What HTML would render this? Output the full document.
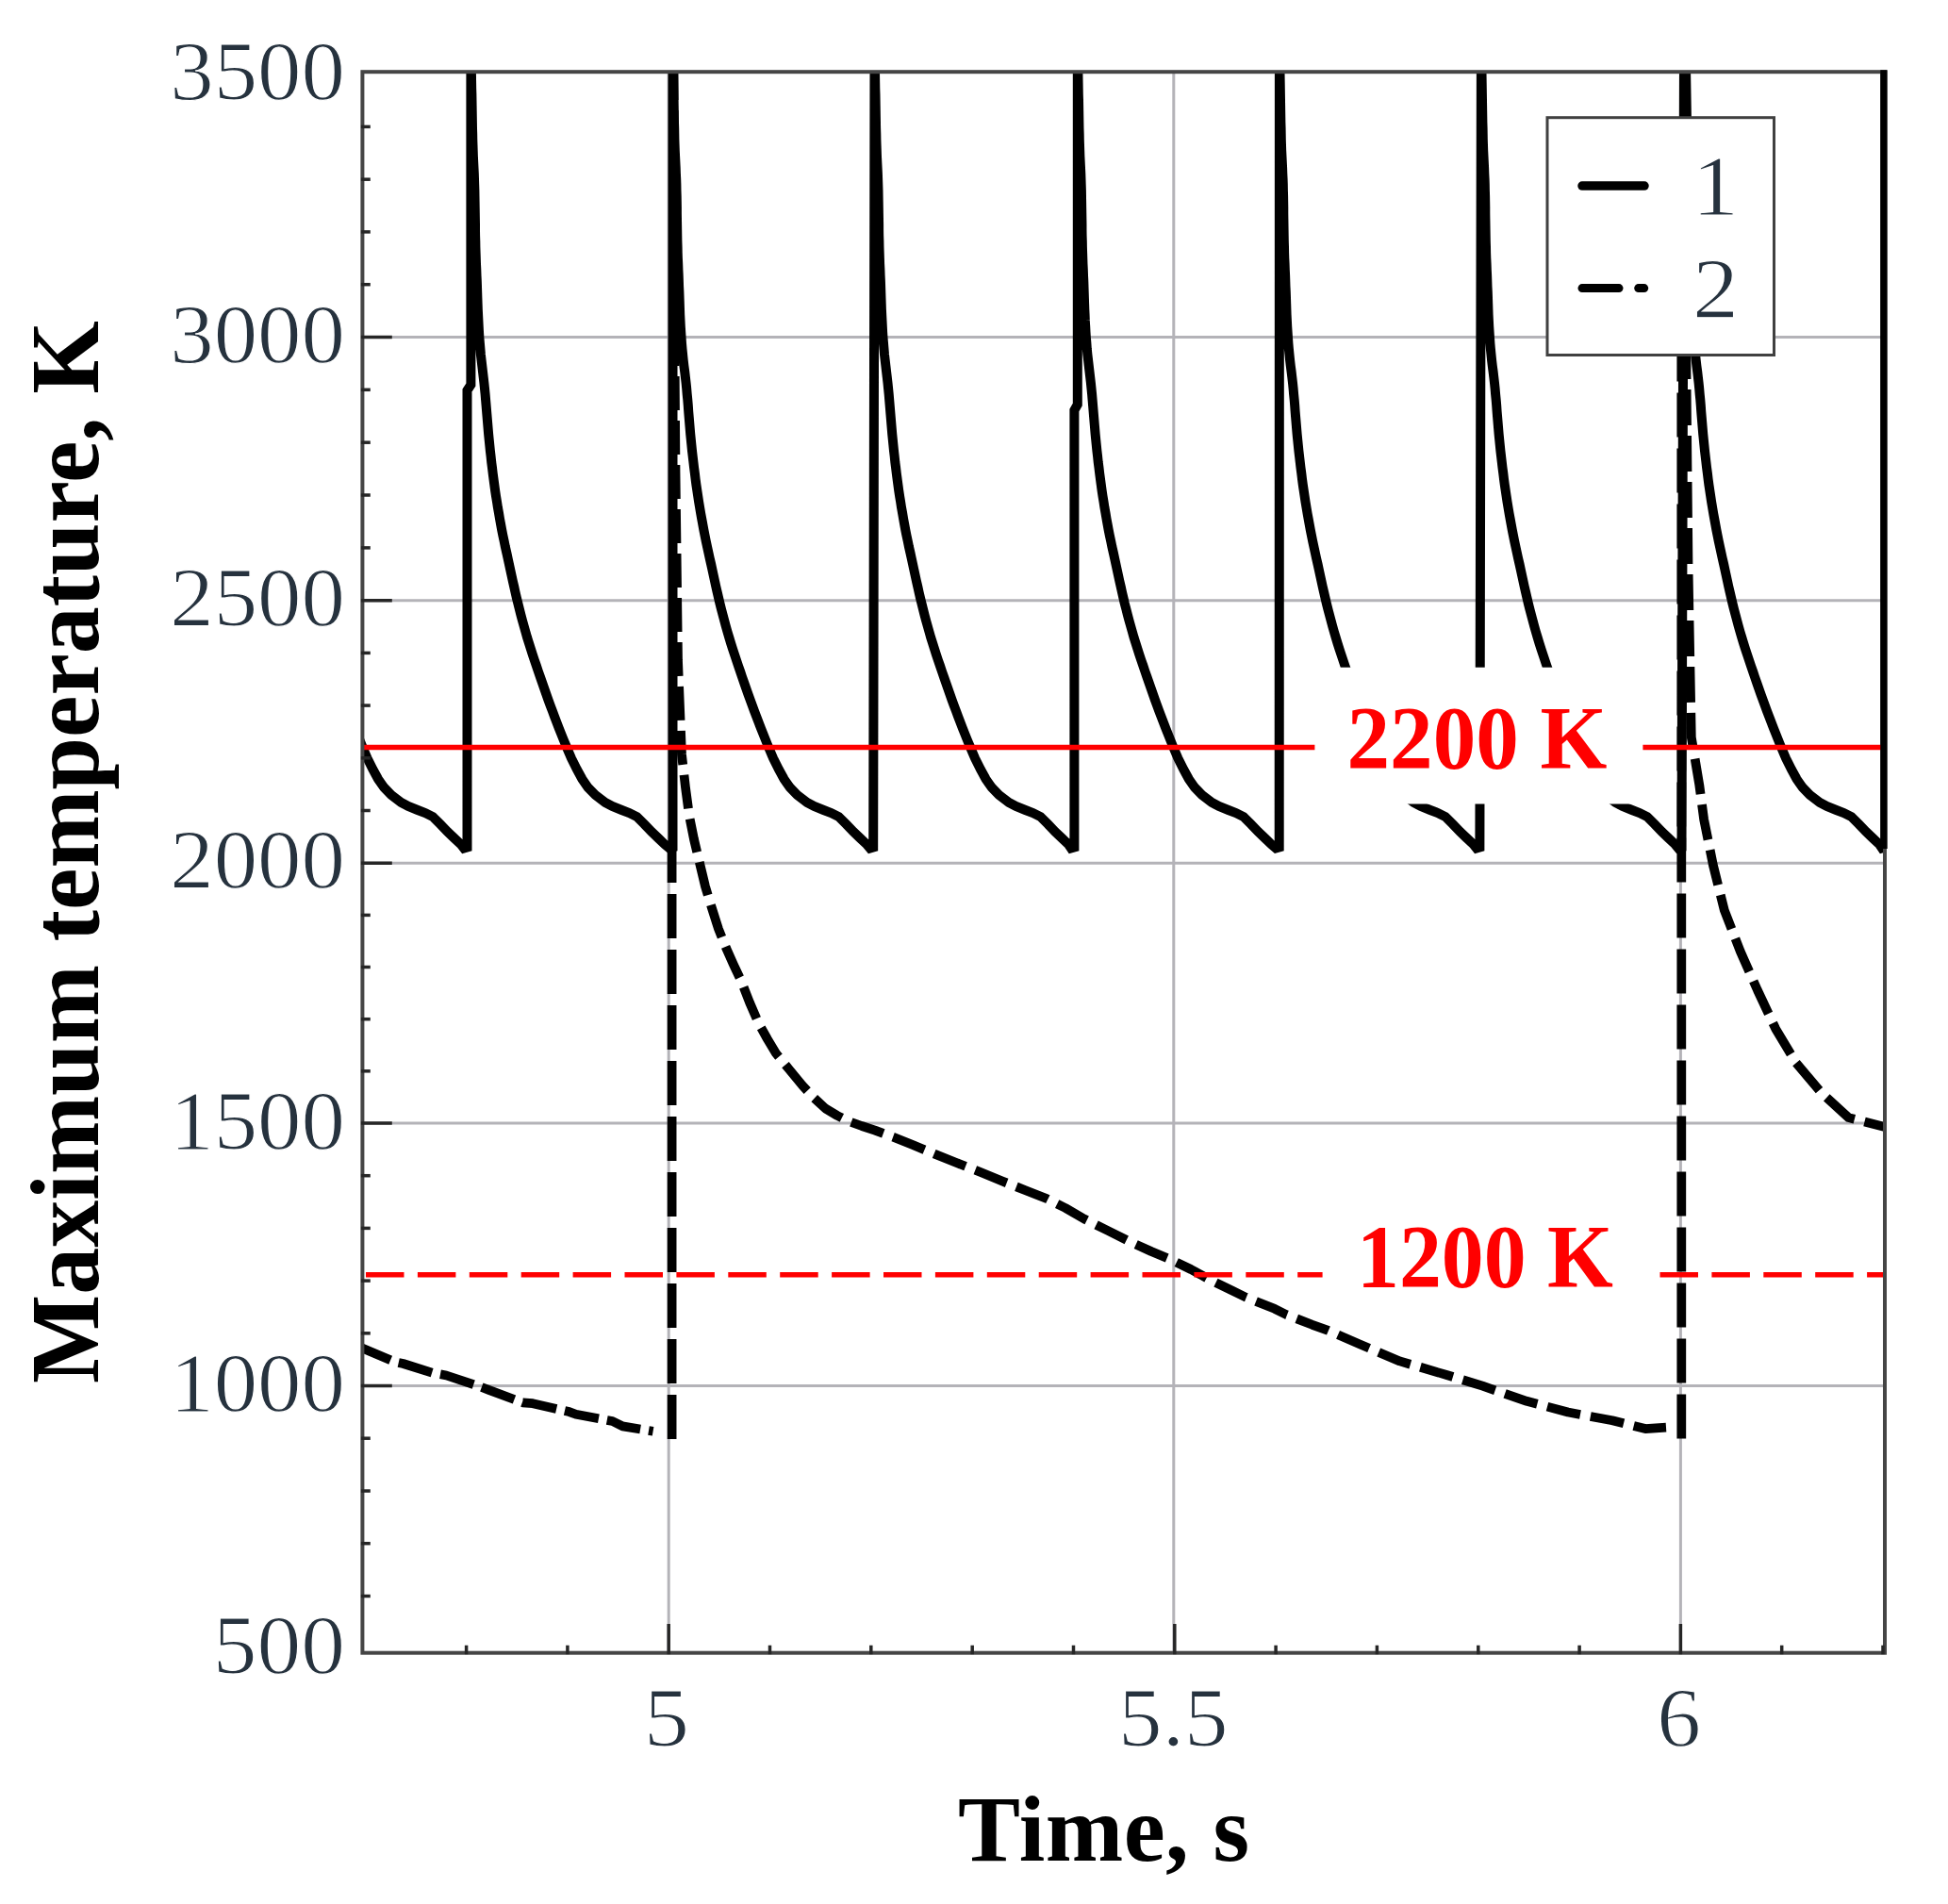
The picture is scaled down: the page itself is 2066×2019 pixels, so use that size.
<!DOCTYPE html>
<html><head><meta charset="utf-8"><title>Maximum temperature vs time</title>
<style>
html,body{margin:0;padding:0;background:#fff;}
body{width:2066px;height:2019px;overflow:hidden;}
svg{display:block;}
</style></head>
<body>
<svg width="2066" height="2019" viewBox="0 0 2066 2019">
<defs><clipPath id="pa"><rect x="384.4" y="76.2" width="1614.6" height="1676.5"/></clipPath></defs>
<rect width="2066" height="2019" fill="#fff"/>
<g stroke="#b4b3b8" stroke-width="3" fill="none">
<line x1="384.4" y1="1469.5" x2="1999.0" y2="1469.5"/>
<line x1="384.4" y1="1191.0" x2="1999.0" y2="1191.0"/>
<line x1="384.4" y1="915.2" x2="1999.0" y2="915.2"/>
<line x1="384.4" y1="636.7" x2="1999.0" y2="636.7"/>
<line x1="384.4" y1="357.5" x2="1999.0" y2="357.5"/>
<line x1="709.2" y1="76.2" x2="709.2" y2="1752.7"/>
<line x1="1244.8" y1="76.2" x2="1244.8" y2="1752.7"/>
<line x1="1782.4" y1="76.2" x2="1782.4" y2="1752.7"/>
</g>
<g clip-path="url(#pa)" fill="none" stroke="#000" stroke-width="9.75" stroke-linejoin="round">
<polyline points="380.0,1428.0 384.0,1429.5 418.6,1444.0 427.6,1446.0 459.0,1455.8 473.4,1458.5 508.5,1470.2 518.3,1473.8 554.3,1487.3 565.0,1488.2 603.7,1497.1 610.9,1499.8 649.5,1507.0 660.3,1512.4 692.6,1517.8" stroke-dasharray="37 9"/>
<polyline points="714.5,70.0 715.0,300.0 716.5,500.0 719.0,700.0 723.0,800.0 727.0,835.0 731.0,865.0 736.0,890.0 742.0,915.0 748.0,940.0 755.0,963.0 762.0,985.0 770.0,1005.0 778.0,1023.0 786.0,1040.0 795.0,1063.0 805.0,1086.0 814.0,1102.0 823.0,1117.0 837.0,1134.0 851.0,1151.0 863.0,1164.0 875.5,1175.5 888.0,1183.0 900.0,1189.0 914.0,1194.0 928.0,1198.6 948.0,1206.0 968.0,1214.0 992.0,1224.0 1017.0,1234.0 1040.0,1243.0 1063.0,1252.5 1087.0,1262.0 1110.0,1271.0 1130.0,1281.0 1150.0,1292.6 1175.0,1305.0 1199.0,1317.0 1221.0,1327.0 1242.0,1335.7 1263.0,1346.0 1285.0,1358.0 1307.0,1368.6 1321.0,1375.5 1351.8,1387.8 1364.1,1394.0 1391.8,1404.8 1408.7,1410.9 1442.6,1425.6 1484.6,1443.4 1534.3,1458.0 1572.4,1469.7 1619.2,1485.8 1663.0,1497.5 1709.9,1506.3 1745.0,1515.1 1767.0,1513.6" stroke-dasharray="36 11"/>
<polyline points="1787.0,70.0 1788.5,400.0 1790.5,600.0 1793.8,781.7 1802.3,832.5 1807.1,868.7 1816.8,917.0 1828.8,965.3 1845.7,1008.8 1863.9,1049.9 1883.2,1090.9 1904.9,1127.1 1931.5,1158.6 1960.5,1185.1 1999.0,1195.0 2010.0,1196.0" stroke-dasharray="38 11"/>
<polyline points="712.6,1526.0 712.6,900.0" stroke-dasharray="47 12" stroke-linecap="butt"/>
<polyline points="1783.3,1525.5 1783.3,130.0" stroke-dasharray="47 12" stroke-linecap="butt"/>
<polyline points="283.5,70.0 283.6,76.0 283.7,82.0 283.8,88.0 283.9,94.0 284.0,100.0 284.1,106.0 284.2,112.0 284.3,118.0 284.4,124.0 284.5,130.0 284.7,136.0 284.8,142.0 284.9,148.0 285.1,154.0 285.3,160.0 285.6,166.0 285.9,172.0 286.2,178.0 286.4,184.0 286.7,190.0 286.9,196.0 287.0,202.0 287.2,208.0 287.3,214.0 287.4,220.0 287.4,226.0 287.5,232.0 287.6,238.0 287.7,244.0 287.8,250.0 287.9,256.0 288.1,262.0 288.2,268.0 288.4,274.0 288.7,280.0 288.9,286.0 289.2,292.0 289.4,298.0 289.6,304.0 289.9,310.0 290.1,316.0 290.3,322.0 290.5,328.0 290.7,334.0 291.0,340.0 291.3,346.0 291.7,352.0 292.1,358.0 292.5,364.0 293.0,370.0 293.6,376.0 294.2,382.0 294.9,388.0 295.7,394.0 296.4,400.0 297.1,406.0 297.7,412.0 298.2,418.0 298.8,424.0 299.3,430.0 299.7,436.0 300.2,442.0 300.7,448.0 301.2,454.0 301.7,460.0 302.3,466.0 302.9,472.0 303.5,478.0 304.2,484.0 304.9,490.0 305.6,496.0 306.4,502.0 307.1,508.0 307.9,514.0 308.8,520.0 309.7,526.0 310.6,532.0 311.6,538.0 312.6,544.0 313.7,550.0 314.8,556.0 315.9,562.0 317.1,568.0 318.3,574.0 319.6,580.0 320.9,586.0 322.2,592.0 323.6,598.0 324.9,604.0 326.2,610.0 327.5,616.0 328.8,622.0 330.2,628.0 331.6,634.0 333.0,640.0 334.5,646.0 336.1,652.0 337.7,658.0 339.3,664.0 341.0,670.0 342.8,676.0 344.6,682.0 346.5,688.0 348.5,694.0 350.5,700.0 352.5,706.0 354.6,712.0 356.6,718.0 358.7,724.0 360.8,730.0 362.9,736.0 365.1,742.0 367.3,748.0 369.5,754.0 371.8,760.0 374.1,766.0 376.4,772.0 378.8,778.0 381.2,784.0 384.0,791.0 389.5,804.0 395.5,816.0 401.0,826.0 407.3,835.0 415.0,843.0 425.5,851.0 433.0,855.0 443.0,859.0 451.0,862.0 459.0,866.0 467.0,874.0 474.6,882.0 482.0,889.0 488.8,895.5 492.0,899.5 495.5,898.5 495.5,414.0 499.4,408.0 499.4,70.0 499.9,70.0 499.9,76.0 500.0,82.0 500.1,88.0 500.2,94.0 500.4,100.0 500.5,106.0 500.6,112.0 500.7,118.0 500.8,124.0 500.9,130.0 501.0,136.0 501.2,142.0 501.3,148.0 501.5,154.0 501.7,160.0 501.9,166.0 502.2,172.0 502.5,178.0 502.8,184.0 503.0,190.0 503.2,196.0 503.4,202.0 503.5,208.0 503.6,214.0 503.7,220.0 503.8,226.0 503.9,232.0 504.0,238.0 504.0,244.0 504.1,250.0 504.3,256.0 504.4,262.0 504.6,268.0 504.8,274.0 505.0,280.0 505.3,286.0 505.5,292.0 505.8,298.0 506.0,304.0 506.2,310.0 506.4,316.0 506.6,322.0 506.8,328.0 507.1,334.0 507.4,340.0 507.7,346.0 508.0,352.0 508.4,358.0 508.9,364.0 509.4,370.0 509.9,376.0 510.6,382.0 511.3,388.0 512.0,394.0 512.7,400.0 513.4,406.0 514.0,412.0 514.6,418.0 515.1,424.0 515.6,430.0 516.1,436.0 516.6,442.0 517.1,448.0 517.6,454.0 518.1,460.0 518.7,466.0 519.3,472.0 519.9,478.0 520.6,484.0 521.2,490.0 522.0,496.0 522.7,502.0 523.5,508.0 524.3,514.0 525.1,520.0 526.0,526.0 527.0,532.0 527.9,538.0 529.0,544.0 530.0,550.0 531.1,556.0 532.2,562.0 533.4,568.0 534.7,574.0 535.9,580.0 537.3,586.0 538.6,592.0 539.9,598.0 541.2,604.0 542.5,610.0 543.8,616.0 545.2,622.0 546.5,628.0 547.9,634.0 549.4,640.0 550.9,646.0 552.4,652.0 554.0,658.0 555.7,664.0 557.4,670.0 559.1,676.0 561.0,682.0 562.9,688.0 564.8,694.0 566.8,700.0 568.9,706.0 570.9,712.0 573.0,718.0 575.1,724.0 577.2,730.0 579.3,736.0 581.4,742.0 583.6,748.0 585.9,754.0 588.1,760.0 590.4,766.0 592.7,772.0 595.1,778.0 597.5,784.0 600.4,791.0 605.9,804.0 611.9,816.0 617.4,826.0 623.6,835.0 631.4,843.0 641.9,851.0 649.4,855.0 659.4,859.0 667.4,862.0 675.4,866.0 683.4,874.0 691.0,882.0 698.4,889.0 705.2,895.5 710.0,899.5 713.5,898.5 713.5,70.0 714.0,70.0 714.1,76.0 714.2,82.0 714.3,88.0 714.4,94.0 714.5,100.0 714.6,106.0 714.7,112.0 714.8,118.0 714.9,124.0 715.0,130.0 715.2,136.0 715.3,142.0 715.4,148.0 715.6,154.0 715.8,160.0 716.1,166.0 716.4,172.0 716.7,178.0 716.9,184.0 717.2,190.0 717.4,196.0 717.5,202.0 717.7,208.0 717.8,214.0 717.9,220.0 717.9,226.0 718.0,232.0 718.1,238.0 718.2,244.0 718.3,250.0 718.4,256.0 718.6,262.0 718.7,268.0 718.9,274.0 719.2,280.0 719.4,286.0 719.7,292.0 719.9,298.0 720.1,304.0 720.4,310.0 720.6,316.0 720.8,322.0 721.0,328.0 721.2,334.0 721.5,340.0 721.8,346.0 722.2,352.0 722.6,358.0 723.0,364.0 723.5,370.0 724.1,376.0 724.7,382.0 725.4,388.0 726.2,394.0 726.9,400.0 727.6,406.0 728.2,412.0 728.7,418.0 729.3,424.0 729.8,430.0 730.2,436.0 730.7,442.0 731.2,448.0 731.7,454.0 732.2,460.0 732.8,466.0 733.4,472.0 734.0,478.0 734.7,484.0 735.4,490.0 736.1,496.0 736.9,502.0 737.6,508.0 738.4,514.0 739.3,520.0 740.2,526.0 741.1,532.0 742.1,538.0 743.1,544.0 744.2,550.0 745.3,556.0 746.4,562.0 747.6,568.0 748.8,574.0 750.1,580.0 751.4,586.0 752.7,592.0 754.1,598.0 755.4,604.0 756.7,610.0 758.0,616.0 759.3,622.0 760.7,628.0 762.1,634.0 763.5,640.0 765.0,646.0 766.6,652.0 768.2,658.0 769.8,664.0 771.5,670.0 773.3,676.0 775.1,682.0 777.0,688.0 779.0,694.0 781.0,700.0 783.0,706.0 785.1,712.0 787.1,718.0 789.2,724.0 791.3,730.0 793.4,736.0 795.6,742.0 797.8,748.0 800.0,754.0 802.3,760.0 804.6,766.0 806.9,772.0 809.3,778.0 811.7,784.0 814.5,791.0 820.0,804.0 826.0,816.0 831.5,826.0 837.8,835.0 845.5,843.0 856.0,851.0 863.5,855.0 873.5,859.0 881.5,862.0 889.5,866.0 897.5,874.0 905.1,882.0 912.5,889.0 919.3,895.5 922.7,899.5 926.2,898.5 927.5,70.0 928.0,70.0 928.0,76.0 928.1,82.0 928.2,88.0 928.3,94.0 928.5,100.0 928.6,106.0 928.7,112.0 928.8,118.0 928.9,124.0 929.0,130.0 929.1,136.0 929.3,142.0 929.4,148.0 929.6,154.0 929.8,160.0 930.0,166.0 930.3,172.0 930.6,178.0 930.9,184.0 931.1,190.0 931.3,196.0 931.5,202.0 931.6,208.0 931.7,214.0 931.8,220.0 931.9,226.0 932.0,232.0 932.1,238.0 932.1,244.0 932.2,250.0 932.4,256.0 932.5,262.0 932.7,268.0 932.9,274.0 933.1,280.0 933.4,286.0 933.6,292.0 933.9,298.0 934.1,304.0 934.3,310.0 934.5,316.0 934.7,322.0 934.9,328.0 935.2,334.0 935.5,340.0 935.8,346.0 936.1,352.0 936.5,358.0 937.0,364.0 937.5,370.0 938.0,376.0 938.7,382.0 939.4,388.0 940.1,394.0 940.8,400.0 941.5,406.0 942.1,412.0 942.7,418.0 943.2,424.0 943.7,430.0 944.2,436.0 944.7,442.0 945.2,448.0 945.7,454.0 946.2,460.0 946.8,466.0 947.4,472.0 948.0,478.0 948.7,484.0 949.3,490.0 950.1,496.0 950.8,502.0 951.6,508.0 952.4,514.0 953.2,520.0 954.1,526.0 955.1,532.0 956.0,538.0 957.1,544.0 958.1,550.0 959.2,556.0 960.3,562.0 961.5,568.0 962.8,574.0 964.0,580.0 965.4,586.0 966.7,592.0 968.0,598.0 969.3,604.0 970.6,610.0 971.9,616.0 973.3,622.0 974.6,628.0 976.0,634.0 977.5,640.0 979.0,646.0 980.5,652.0 982.1,658.0 983.8,664.0 985.5,670.0 987.2,676.0 989.1,682.0 991.0,688.0 992.9,694.0 994.9,700.0 997.0,706.0 999.0,712.0 1001.1,718.0 1003.2,724.0 1005.3,730.0 1007.4,736.0 1009.5,742.0 1011.7,748.0 1014.0,754.0 1016.2,760.0 1018.5,766.0 1020.8,772.0 1023.2,778.0 1025.6,784.0 1028.5,791.0 1034.0,804.0 1040.0,816.0 1045.5,826.0 1051.8,835.0 1059.5,843.0 1070.0,851.0 1077.5,855.0 1087.5,859.0 1095.5,862.0 1103.5,866.0 1111.5,874.0 1119.0,882.0 1126.5,889.0 1133.2,895.5 1135.9,899.5 1139.4,898.5 1139.4,435.0 1142.8,429.0 1142.8,70.0 1143.3,70.0 1143.4,76.0 1143.5,82.0 1143.6,88.0 1143.7,94.0 1143.8,100.0 1144.0,106.0 1144.1,112.0 1144.2,118.0 1144.3,124.0 1144.4,130.0 1144.5,136.0 1144.7,142.0 1144.8,148.0 1145.0,154.0 1145.2,160.0 1145.4,166.0 1145.7,172.0 1146.0,178.0 1146.3,184.0 1146.5,190.0 1146.7,196.0 1146.9,202.0 1147.0,208.0 1147.1,214.0 1147.2,220.0 1147.3,226.0 1147.4,232.0 1147.5,238.0 1147.5,244.0 1147.6,250.0 1147.8,256.0 1147.9,262.0 1148.1,268.0 1148.3,274.0 1148.5,280.0 1148.8,286.0 1149.0,292.0 1149.3,298.0 1149.5,304.0 1149.7,310.0 1149.9,316.0 1150.1,322.0 1150.3,328.0 1150.6,334.0 1150.8,340.0 1151.2,346.0 1151.5,352.0 1151.9,358.0 1152.4,364.0 1152.8,370.0 1153.4,376.0 1154.1,382.0 1154.8,388.0 1155.5,394.0 1156.2,400.0 1156.9,406.0 1157.5,412.0 1158.1,418.0 1158.6,424.0 1159.1,430.0 1159.6,436.0 1160.1,442.0 1160.6,448.0 1161.1,454.0 1161.6,460.0 1162.2,466.0 1162.8,472.0 1163.4,478.0 1164.1,484.0 1164.7,490.0 1165.5,496.0 1166.2,502.0 1167.0,508.0 1167.8,514.0 1168.6,520.0 1169.5,526.0 1170.5,532.0 1171.4,538.0 1172.5,544.0 1173.5,550.0 1174.6,556.0 1175.7,562.0 1176.9,568.0 1178.2,574.0 1179.4,580.0 1180.8,586.0 1182.1,592.0 1183.4,598.0 1184.7,604.0 1186.0,610.0 1187.3,616.0 1188.7,622.0 1190.0,628.0 1191.4,634.0 1192.8,640.0 1194.4,646.0 1195.9,652.0 1197.5,658.0 1199.2,664.0 1200.9,670.0 1202.6,676.0 1204.5,682.0 1206.4,688.0 1208.3,694.0 1210.3,700.0 1212.4,706.0 1214.4,712.0 1216.5,718.0 1218.6,724.0 1220.7,730.0 1222.8,736.0 1224.9,742.0 1227.1,748.0 1229.3,754.0 1231.6,760.0 1233.9,766.0 1236.2,772.0 1238.6,778.0 1241.0,784.0 1243.8,791.0 1249.3,804.0 1255.3,816.0 1260.8,826.0 1267.1,835.0 1274.8,843.0 1285.3,851.0 1292.8,855.0 1302.8,859.0 1310.8,862.0 1318.8,866.0 1326.8,874.0 1334.4,882.0 1341.8,889.0 1348.6,895.5 1353.2,899.5 1356.7,898.5 1356.9,70.0 1357.4,70.0 1357.5,76.0 1357.6,82.0 1357.7,88.0 1357.8,94.0 1357.9,100.0 1358.0,106.0 1358.1,112.0 1358.2,118.0 1358.3,124.0 1358.4,130.0 1358.6,136.0 1358.7,142.0 1358.8,148.0 1359.0,154.0 1359.2,160.0 1359.5,166.0 1359.8,172.0 1360.1,178.0 1360.3,184.0 1360.6,190.0 1360.8,196.0 1360.9,202.0 1361.1,208.0 1361.2,214.0 1361.3,220.0 1361.3,226.0 1361.4,232.0 1361.5,238.0 1361.6,244.0 1361.7,250.0 1361.8,256.0 1362.0,262.0 1362.1,268.0 1362.3,274.0 1362.6,280.0 1362.8,286.0 1363.1,292.0 1363.3,298.0 1363.5,304.0 1363.8,310.0 1364.0,316.0 1364.2,322.0 1364.4,328.0 1364.6,334.0 1364.9,340.0 1365.2,346.0 1365.6,352.0 1366.0,358.0 1366.4,364.0 1366.9,370.0 1367.5,376.0 1368.1,382.0 1368.8,388.0 1369.6,394.0 1370.3,400.0 1371.0,406.0 1371.6,412.0 1372.1,418.0 1372.7,424.0 1373.2,430.0 1373.6,436.0 1374.1,442.0 1374.6,448.0 1375.1,454.0 1375.6,460.0 1376.2,466.0 1376.8,472.0 1377.4,478.0 1378.1,484.0 1378.8,490.0 1379.5,496.0 1380.3,502.0 1381.0,508.0 1381.8,514.0 1382.7,520.0 1383.6,526.0 1384.5,532.0 1385.5,538.0 1386.5,544.0 1387.6,550.0 1388.7,556.0 1389.8,562.0 1391.0,568.0 1392.2,574.0 1393.5,580.0 1394.8,586.0 1396.1,592.0 1397.5,598.0 1398.8,604.0 1400.1,610.0 1401.4,616.0 1402.7,622.0 1404.1,628.0 1405.5,634.0 1406.9,640.0 1408.4,646.0 1410.0,652.0 1411.6,658.0 1413.2,664.0 1414.9,670.0 1416.7,676.0 1418.5,682.0 1420.4,688.0 1422.4,694.0 1424.4,700.0 1426.4,706.0 1428.5,712.0 1430.5,718.0 1432.6,724.0 1434.7,730.0 1436.8,736.0 1439.0,742.0 1441.2,748.0 1443.4,754.0 1445.7,760.0 1448.0,766.0 1450.3,772.0 1452.7,778.0 1455.1,784.0 1457.9,791.0 1463.4,804.0 1469.4,816.0 1474.9,826.0 1481.2,835.0 1488.9,843.0 1499.4,851.0 1506.9,855.0 1516.9,859.0 1524.9,862.0 1532.9,866.0 1540.9,874.0 1548.5,882.0 1555.9,889.0 1562.7,895.5 1565.9,899.5 1569.4,898.5 1570.9,70.0 1571.4,70.0 1571.5,76.0 1571.6,82.0 1571.7,88.0 1571.8,94.0 1571.9,100.0 1572.0,106.0 1572.1,112.0 1572.2,118.0 1572.3,124.0 1572.4,130.0 1572.6,136.0 1572.7,142.0 1572.8,148.0 1573.0,154.0 1573.2,160.0 1573.5,166.0 1573.8,172.0 1574.1,178.0 1574.3,184.0 1574.6,190.0 1574.8,196.0 1574.9,202.0 1575.1,208.0 1575.2,214.0 1575.3,220.0 1575.3,226.0 1575.4,232.0 1575.5,238.0 1575.6,244.0 1575.7,250.0 1575.8,256.0 1576.0,262.0 1576.1,268.0 1576.3,274.0 1576.6,280.0 1576.8,286.0 1577.1,292.0 1577.3,298.0 1577.5,304.0 1577.8,310.0 1578.0,316.0 1578.2,322.0 1578.4,328.0 1578.6,334.0 1578.9,340.0 1579.2,346.0 1579.6,352.0 1580.0,358.0 1580.4,364.0 1580.9,370.0 1581.5,376.0 1582.1,382.0 1582.8,388.0 1583.6,394.0 1584.3,400.0 1585.0,406.0 1585.6,412.0 1586.1,418.0 1586.7,424.0 1587.2,430.0 1587.6,436.0 1588.1,442.0 1588.6,448.0 1589.1,454.0 1589.6,460.0 1590.2,466.0 1590.8,472.0 1591.4,478.0 1592.1,484.0 1592.8,490.0 1593.5,496.0 1594.3,502.0 1595.0,508.0 1595.8,514.0 1596.7,520.0 1597.6,526.0 1598.5,532.0 1599.5,538.0 1600.5,544.0 1601.6,550.0 1602.7,556.0 1603.8,562.0 1605.0,568.0 1606.2,574.0 1607.5,580.0 1608.8,586.0 1610.1,592.0 1611.5,598.0 1612.8,604.0 1614.1,610.0 1615.4,616.0 1616.7,622.0 1618.1,628.0 1619.5,634.0 1620.9,640.0 1622.4,646.0 1624.0,652.0 1625.6,658.0 1627.2,664.0 1628.9,670.0 1630.7,676.0 1632.5,682.0 1634.4,688.0 1636.4,694.0 1638.4,700.0 1640.4,706.0 1642.5,712.0 1644.5,718.0 1646.6,724.0 1648.7,730.0 1650.8,736.0 1653.0,742.0 1655.2,748.0 1657.4,754.0 1659.7,760.0 1662.0,766.0 1664.3,772.0 1666.7,778.0 1669.1,784.0 1671.9,791.0 1677.4,804.0 1683.4,816.0 1688.9,826.0 1695.2,835.0 1702.9,843.0 1713.4,851.0 1720.9,855.0 1730.9,859.0 1738.9,862.0 1746.9,866.0 1754.9,874.0 1762.5,882.0 1769.9,889.0 1776.7,895.5 1780.0,899.5 1783.5,898.5 1786.0,70.0 1788.0,70.0 1788.1,76.0 1788.2,82.0 1788.3,88.0 1788.4,94.0 1788.5,100.0 1788.6,106.0 1788.7,112.0 1788.8,118.0 1788.9,124.0 1789.0,130.0 1789.2,136.0 1789.3,142.0 1789.4,148.0 1789.6,154.0 1789.8,160.0 1790.1,166.0 1790.4,172.0 1790.7,178.0 1790.9,184.0 1791.2,190.0 1791.4,196.0 1791.5,202.0 1791.7,208.0 1791.8,214.0 1791.9,220.0 1791.9,226.0 1792.0,232.0 1792.1,238.0 1792.2,244.0 1792.3,250.0 1792.4,256.0 1792.6,262.0 1792.7,268.0 1792.9,274.0 1793.2,280.0 1793.4,286.0 1793.7,292.0 1793.9,298.0 1794.1,304.0 1794.4,310.0 1794.6,316.0 1794.8,322.0 1795.0,328.0 1795.2,334.0 1795.5,340.0 1795.8,346.0 1796.2,352.0 1796.6,358.0 1797.0,364.0 1797.5,370.0 1798.1,376.0 1798.7,382.0 1799.4,388.0 1800.2,394.0 1800.9,400.0 1801.6,406.0 1802.2,412.0 1802.7,418.0 1803.3,424.0 1803.8,430.0 1804.2,436.0 1804.7,442.0 1805.2,448.0 1805.7,454.0 1806.2,460.0 1806.8,466.0 1807.4,472.0 1808.0,478.0 1808.7,484.0 1809.4,490.0 1810.1,496.0 1810.9,502.0 1811.6,508.0 1812.4,514.0 1813.3,520.0 1814.2,526.0 1815.1,532.0 1816.1,538.0 1817.1,544.0 1818.2,550.0 1819.3,556.0 1820.4,562.0 1821.6,568.0 1822.8,574.0 1824.1,580.0 1825.4,586.0 1826.7,592.0 1828.1,598.0 1829.4,604.0 1830.7,610.0 1832.0,616.0 1833.3,622.0 1834.7,628.0 1836.1,634.0 1837.5,640.0 1839.0,646.0 1840.6,652.0 1842.2,658.0 1843.8,664.0 1845.5,670.0 1847.3,676.0 1849.1,682.0 1851.0,688.0 1853.0,694.0 1855.0,700.0 1857.0,706.0 1859.1,712.0 1861.1,718.0 1863.2,724.0 1865.3,730.0 1867.4,736.0 1869.6,742.0 1871.8,748.0 1874.0,754.0 1876.3,760.0 1878.6,766.0 1880.9,772.0 1883.3,778.0 1885.7,784.0 1888.5,791.0 1894.0,804.0 1900.0,816.0 1905.5,826.0 1911.8,835.0 1919.5,843.0 1930.0,851.0 1937.5,855.0 1947.5,859.0 1955.5,862.0 1963.5,866.0 1971.5,874.0 1979.1,882.0 1986.5,889.0 1993.3,895.5 1996.0,899.5 1999.5,898.5 1999.5,70.0 2000.0,70.0 2000.1,76.0 2000.2,82.0 2000.3,88.0 2000.4,94.0 2000.5,100.0 2000.6,106.0 2000.7,112.0 2000.8,118.0 2000.9,124.0 2001.0,130.0 2001.2,136.0 2001.3,142.0 2001.4,148.0 2001.6,154.0 2001.8,160.0 2002.1,166.0 2002.4,172.0 2002.7,178.0 2002.9,184.0 2003.2,190.0 2003.4,196.0 2003.5,202.0 2003.7,208.0 2003.8,214.0 2003.9,220.0 2003.9,226.0 2004.0,232.0 2004.1,238.0 2004.2,244.0 2004.3,250.0 2004.4,256.0 2004.6,262.0 2004.7,268.0 2004.9,274.0 2005.2,280.0 2005.4,286.0 2005.7,292.0 2005.9,298.0 2006.1,304.0 2006.4,310.0 2006.6,316.0 2006.8,322.0 2007.0,328.0 2007.2,334.0 2007.5,340.0 2007.8,346.0 2008.2,352.0 2008.6,358.0 2009.0,364.0 2009.5,370.0 2010.1,376.0 2010.7,382.0 2011.4,388.0 2012.2,394.0 2012.9,400.0 2013.6,406.0 2014.2,412.0 2014.7,418.0 2015.3,424.0 2015.8,430.0 2016.2,436.0 2016.7,442.0 2017.2,448.0 2017.7,454.0 2018.2,460.0 2018.8,466.0 2019.4,472.0 2020.0,478.0 2020.7,484.0 2021.4,490.0 2022.1,496.0 2022.9,502.0 2023.6,508.0 2024.4,514.0 2025.3,520.0 2026.2,526.0 2027.1,532.0 2028.1,538.0 2029.1,544.0 2030.2,550.0 2031.3,556.0 2032.4,562.0 2033.6,568.0 2034.8,574.0 2036.1,580.0 2037.4,586.0 2038.7,592.0 2040.1,598.0 2041.4,604.0 2042.7,610.0 2044.0,616.0 2045.3,622.0 2046.7,628.0 2048.1,634.0 2049.5,640.0 2051.0,646.0 2052.6,652.0 2054.2,658.0 2055.8,664.0 2057.5,670.0 2059.3,676.0 2061.1,682.0 2063.0,688.0 2065.0,694.0 2067.0,700.0 2069.0,706.0 2071.1,712.0 2073.1,718.0 2075.2,724.0 2077.3,730.0 2079.4,736.0 2081.6,742.0 2083.8,748.0 2086.0,754.0 2088.3,760.0 2090.6,766.0 2092.9,772.0 2095.3,778.0 2097.7,784.0 2100.5,791.0 2106.0,804.0 2112.0,816.0 2117.5,826.0 2123.8,835.0 2131.5,843.0 2142.0,851.0 2149.5,855.0 2159.5,859.0 2167.5,862.0 2175.5,866.0 2183.5,874.0 2191.1,882.0 2198.5,889.0 2205.3,895.5" stroke-width="10" stroke-linejoin="miter" stroke-miterlimit="3"/>
</g>
<g clip-path="url(#pa)">
<line x1="384.4" y1="792.6" x2="1999.0" y2="792.6" stroke="#ff0000" stroke-width="5.5"/>
<line x1="388" y1="1351.8" x2="1999.0" y2="1351.8" stroke="#ff0000" stroke-width="5.5" stroke-dasharray="40.5 14.4"/>
<rect x="1394.4" y="707.7" width="348" height="144.8" fill="#fff"/>
<rect x="1402.6" y="1290" width="352" height="105" fill="#fff"/>
</g>
<g fill="#ff0000" font-family="'Liberation Serif', serif" font-weight="bold" font-size="96">
<text x="1428.5" y="815" textLength="276" lengthAdjust="spacingAndGlyphs">2200 K</text>
<text x="1439" y="1365" textLength="272" lengthAdjust="spacingAndGlyphs">1200 K</text>
</g>
<g>
<rect x="1641" y="124.7" width="240.5" height="251.8" fill="#fff" stroke="#404040" stroke-width="3"/>
<line x1="1678" y1="197.1" x2="1744" y2="197.1" stroke="#000" stroke-width="9.5" stroke-linecap="round"/>
<line x1="1678" y1="305.6" x2="1717" y2="305.6" stroke="#000" stroke-width="9" stroke-linecap="round"/>
<line x1="1737.7" y1="305.6" x2="1743.7" y2="305.6" stroke="#000" stroke-width="9" stroke-linecap="round"/>
</g>
<rect x="384.4" y="76.2" width="1614.6" height="1676.5" fill="none" stroke="#454545" stroke-width="4"/>
<line x1="1998" y1="74.2" x2="1998" y2="900" stroke="#000" stroke-width="7.4"/>
<g stroke="#262626" stroke-width="3.5">
<line x1="382.9" y1="1692.5" x2="392.8" y2="1692.5"/>
<line x1="382.9" y1="1636.7" x2="392.8" y2="1636.7"/>
<line x1="382.9" y1="1581.0" x2="392.8" y2="1581.0"/>
<line x1="382.9" y1="1525.2" x2="392.8" y2="1525.2"/>
<line x1="382.9" y1="1469.5" x2="415.8" y2="1469.5"/>
<line x1="382.9" y1="1413.8" x2="392.8" y2="1413.8"/>
<line x1="382.9" y1="1358.1" x2="392.8" y2="1358.1"/>
<line x1="382.9" y1="1302.4" x2="392.8" y2="1302.4"/>
<line x1="382.9" y1="1246.7" x2="392.8" y2="1246.7"/>
<line x1="382.9" y1="1191.0" x2="415.8" y2="1191.0"/>
<line x1="382.9" y1="1135.8" x2="392.8" y2="1135.8"/>
<line x1="382.9" y1="1080.7" x2="392.8" y2="1080.7"/>
<line x1="382.9" y1="1025.5" x2="392.8" y2="1025.5"/>
<line x1="382.9" y1="970.4" x2="392.8" y2="970.4"/>
<line x1="382.9" y1="915.2" x2="415.8" y2="915.2"/>
<line x1="382.9" y1="859.5" x2="392.8" y2="859.5"/>
<line x1="382.9" y1="803.8" x2="392.8" y2="803.8"/>
<line x1="382.9" y1="748.1" x2="392.8" y2="748.1"/>
<line x1="382.9" y1="692.4" x2="392.8" y2="692.4"/>
<line x1="382.9" y1="636.7" x2="415.8" y2="636.7"/>
<line x1="382.9" y1="580.9" x2="392.8" y2="580.9"/>
<line x1="382.9" y1="525.0" x2="392.8" y2="525.0"/>
<line x1="382.9" y1="469.2" x2="392.8" y2="469.2"/>
<line x1="382.9" y1="413.3" x2="392.8" y2="413.3"/>
<line x1="382.9" y1="357.5" x2="415.8" y2="357.5"/>
<line x1="382.9" y1="301.7" x2="392.8" y2="301.7"/>
<line x1="382.9" y1="245.9" x2="392.8" y2="245.9"/>
<line x1="382.9" y1="190.2" x2="392.8" y2="190.2"/>
<line x1="382.9" y1="134.4" x2="392.8" y2="134.4"/>
<line x1="494.6" y1="1754.2" x2="494.6" y2="1744.7"/>
<line x1="601.9" y1="1754.2" x2="601.9" y2="1744.7"/>
<line x1="709.2" y1="1754.2" x2="709.2" y2="1722.0"/>
<line x1="816.5" y1="1754.2" x2="816.5" y2="1744.7"/>
<line x1="923.8" y1="1754.2" x2="923.8" y2="1744.7"/>
<line x1="1031.2" y1="1754.2" x2="1031.2" y2="1744.7"/>
<line x1="1138.5" y1="1754.2" x2="1138.5" y2="1744.7"/>
<line x1="1245.8" y1="1754.2" x2="1245.8" y2="1722.0"/>
<line x1="1353.1" y1="1754.2" x2="1353.1" y2="1744.7"/>
<line x1="1460.4" y1="1754.2" x2="1460.4" y2="1744.7"/>
<line x1="1567.8" y1="1754.2" x2="1567.8" y2="1744.7"/>
<line x1="1675.1" y1="1754.2" x2="1675.1" y2="1744.7"/>
<line x1="1782.4" y1="1754.2" x2="1782.4" y2="1722.0"/>
<line x1="1889.7" y1="1754.2" x2="1889.7" y2="1744.7"/>
<line x1="1997.0" y1="1754.2" x2="1997.0" y2="1744.7"/>
</g>
<g fill="#26323e" stroke="#fff" stroke-width="1.2" font-family="'Liberation Serif', serif" font-size="88.5">
<text x="366" y="105.3" text-anchor="end" textLength="185.8" lengthAdjust="spacingAndGlyphs">3500</text>
<text x="366" y="384.3" text-anchor="end" textLength="185.8" lengthAdjust="spacingAndGlyphs">3000</text>
<text x="366" y="662.7" text-anchor="end" textLength="185.8" lengthAdjust="spacingAndGlyphs">2500</text>
<text x="366" y="941.1" text-anchor="end" textLength="185.8" lengthAdjust="spacingAndGlyphs">2000</text>
<text x="366" y="1217.8" text-anchor="end" textLength="185.8" lengthAdjust="spacingAndGlyphs">1500</text>
<text x="366" y="1496.3" text-anchor="end" textLength="185.8" lengthAdjust="spacingAndGlyphs">1000</text>
<text x="366" y="1774.1" text-anchor="end" textLength="140.3" lengthAdjust="spacingAndGlyphs">500</text>
<text x="707.0" y="1851" text-anchor="middle" textLength="48.3" lengthAdjust="spacingAndGlyphs">5</text>
<text x="1244.3" y="1851" text-anchor="middle" textLength="116.5" lengthAdjust="spacingAndGlyphs">5.5</text>
<text x="1780.6" y="1851" text-anchor="middle" textLength="46.8" lengthAdjust="spacingAndGlyphs">6</text>
<text x="1819.3" y="228.2" text-anchor="middle" font-size="91" textLength="50" lengthAdjust="spacingAndGlyphs">1</text>
<text x="1819.4" y="337" text-anchor="middle" font-size="91" textLength="49" lengthAdjust="spacingAndGlyphs">2</text>
</g>
<g fill="#000" font-family="'Liberation Serif', serif" font-weight="bold">
<text x="1016" y="1972.7" font-size="99" textLength="309">Time, s</text>
<text transform="translate(104,1467) rotate(-90)" font-size="104" textLength="1127" lengthAdjust="spacingAndGlyphs">Maximum temperature, K</text>
</g>
</svg>
</body></html>
